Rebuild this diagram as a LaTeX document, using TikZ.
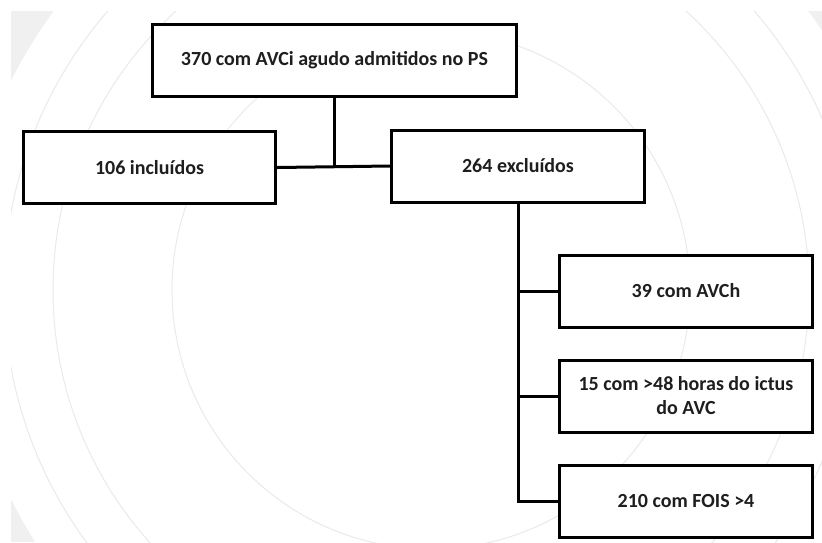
\documentclass[tikz,border=0pt]{standalone}
\usepackage{fontspec}
\setmainfont{Carlito}
\definecolor{panelgray}{RGB}{240,240,240}
\definecolor{ringgray}{RGB}{234,234,234}
\definecolor{textgray}{RGB}{30,30,30}

\begin{document}
\begin{tikzpicture}[x=1pt, y=-1pt,
    every node/.style={font=\bfseries\fontsize{20}{24}\selectfont, text=textgray},
    flowbox/.style={draw=black, line width=3pt, fill=white, align=center,
        minimum width=253pt, minimum height=72pt, inner sep=0pt},
    ring/.style={draw=ringgray, line width=1pt},
    link/.style={draw=black, line width=3pt}]
				\useasboundingbox (0,0) rectangle (822,542);
				
				% background panel with rings
				\begin{scope}
					\clip (11,11) rectangle (822,542);
					\fill[panelgray] (11,11) rectangle (822,542);
					\fill[white] (431,290) circle[radius=469pt];
					\foreach \r in {259,378,427}
					\draw[ring] (431,290) circle[radius=\r pt];
				\end{scope}
				
				\node[flowbox, minimum width=364pt] (adm) at (334.5,60) {370 com AVCi agudo admitidos no PS};
				\node[flowbox, minimum width=252pt] (inc) at (149.5,167.5) {106 incluídos};
				\node[flowbox] (exc) at (518,166) {264 excluídos};
				
				\node[flowbox] (avch) at (686,291) {39 com AVCh};
				\node[flowbox] (ictus) at (686,396) {15 com >48 horas do ictus\\do AVC};
				\node[flowbox] (fois) at (686,501.5) {210 com FOIS >4};
				
				\draw[link] (inc.east) -- (exc.west);
				\draw[link] (adm.south) -- (adm.south |- exc.west);
				\draw[link] (exc.south) -- (exc.south |- fois.west) -- (fois.west);
				\draw[link] (exc.south |- avch.west) -- (avch.west);
				\draw[link] (exc.south |- ictus.west) -- (ictus.west);
			\end{tikzpicture}
\end{document}
